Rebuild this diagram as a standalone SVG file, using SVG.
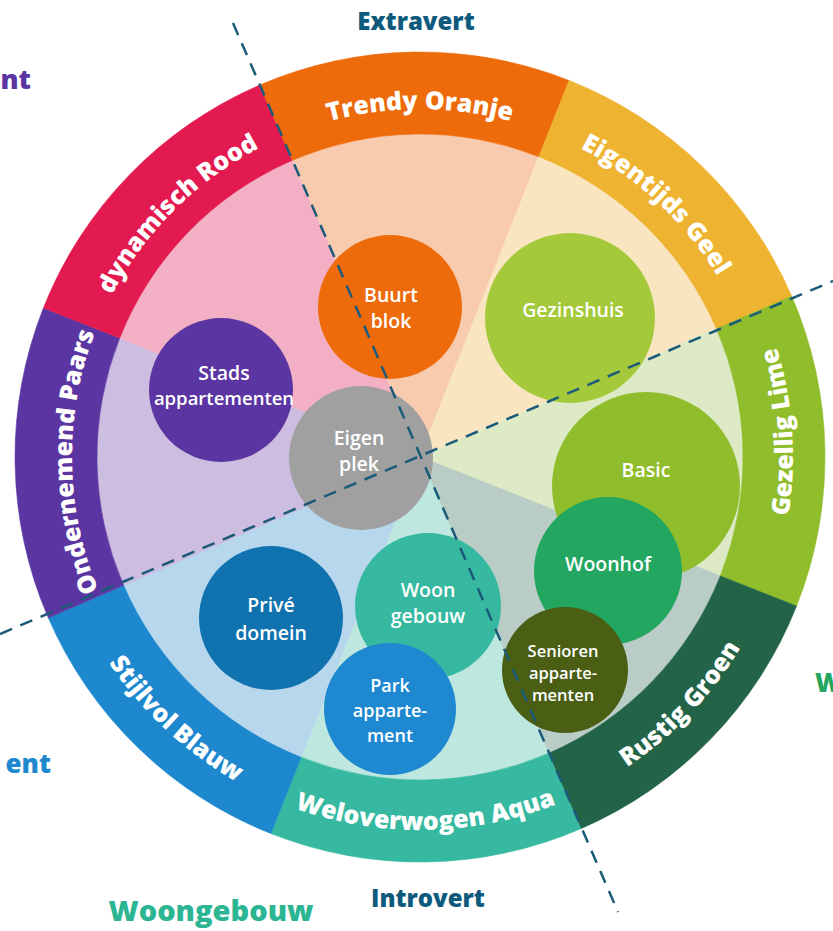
<svg xmlns="http://www.w3.org/2000/svg" width="833" height="931" viewBox="0 0 833 931">
<style>
.ring{font-family:"Open Sans","Noto Sans",sans-serif;font-weight:800;font-size:25px;fill:#fff}
.lbl{font-family:"Open Sans","Noto Sans",sans-serif;font-weight:600;font-size:19.5px;fill:#fff;text-anchor:middle}
.out{font-family:"Open Sans","Noto Sans",sans-serif;font-weight:800;font-size:24px}
.axis{fill:none;stroke:#1B5A78;stroke-width:2.5;stroke-dasharray:13 9}
</style>
<defs>
<path id="pOranje" d="M196.41,190.50 A348,348 0 0 1 643.59,190.50"/>
<path id="pGeel" d="M450.33,110.32 A348,348 0 0 1 766.67,423.67"/>
<path id="pPaars" d="M153.41,680.69 A348,348 0 0 1 153.41,233.31"/>
<path id="pRood" d="M73.33,423.67 A348,348 0 0 1 389.67,110.32"/>
<path id="pLime" d="M705.74,696.77 A373,373 0 0 0 705.74,217.23"/>
<path id="pGroen" d="M452.51,828.58 A373,373 0 0 0 791.58,489.51"/>
<path id="pAqua" d="M180.24,742.74 A373,373 0 0 0 659.76,742.74"/>
<path id="pBlauw" d="M48.42,489.51 A373,373 0 0 0 387.49,828.58"/>
</defs>
<rect width="833" height="931" fill="#fff"/>

<g transform="rotate(-0.9 420 457)">
<g id="sectors">
<path d="M420,457 L296.39,158.59 A323,323 0 0 1 543.61,158.59 Z" fill="#F8CBAE" stroke="#F8CBAE"/>
<path d="M420,457 L543.61,158.59 A323,323 0 0 1 718.41,333.39 Z" fill="#FAE5C1" stroke="#FAE5C1"/>
<path d="M420,457 L718.41,333.39 A323,323 0 0 1 718.41,580.61 Z" fill="#DDEAC5" stroke="#DDEAC5"/>
<path d="M420,457 L718.41,580.61 A323,323 0 0 1 543.61,755.41 Z" fill="#B9CCC5" stroke="#B9CCC5"/>
<path d="M420,457 L543.61,755.41 A323,323 0 0 1 296.39,755.41 Z" fill="#BEE7E0" stroke="#BEE7E0"/>
<path d="M420,457 L296.39,755.41 A323,323 0 0 1 121.59,580.61 Z" fill="#B7D7EC" stroke="#B7D7EC"/>
<path d="M420,457 L121.59,580.61 A323,323 0 0 1 121.59,333.39 Z" fill="#CCBDE1" stroke="#CCBDE1"/>
<path d="M420,457 L121.59,333.39 A323,323 0 0 1 296.39,158.59 Z" fill="#F3B0C5" stroke="#F3B0C5"/>
</g>

<g id="ring-oranje">
<path d="M265.01,82.83 A405,405 0 0 1 574.99,82.83 L543.61,158.59 A323,323 0 0 0 296.39,158.59 Z" fill="#EE6B0C" stroke="#EE6B0C" stroke-width="0.6"/>
<text class="ring"><textPath href="#pOranje" startOffset="51.1%" text-anchor="middle">Trendy Oranje</textPath></text>
</g>
<g id="ring-geel">
<path d="M574.99,82.83 A405,405 0 0 1 794.17,301.99 L718.41,333.39 A323,323 0 0 0 543.61,158.59 Z" fill="#EEB330" stroke="#EEB330" stroke-width="0.6"/>
<text class="ring"><textPath href="#pGeel" startOffset="49%" text-anchor="middle">Eigentijds Geel</textPath></text>
</g>
<g id="ring-lime">
<path d="M794.17,301.99 A405,405 0 0 1 794.17,612.01 L718.41,580.61 A323,323 0 0 0 718.41,333.39 Z" fill="#8FBD2B" stroke="#8FBD2B" stroke-width="0.6"/>
<text class="ring"><textPath href="#pLime" startOffset="53.9%" text-anchor="middle">Gezellig Lime</textPath></text>
</g>
<g id="ring-groen">
<path d="M794.17,612.01 A405,405 0 0 1 574.99,831.17 L543.61,755.41 A323,323 0 0 0 718.41,580.61 Z" fill="#236448" stroke="#236448" stroke-width="0.6"/>
<text class="ring"><textPath href="#pGroen" startOffset="50.75%" text-anchor="middle">Rustig Groen</textPath></text>
</g>
<g id="ring-aqua">
<path d="M574.99,831.17 A405,405 0 0 1 265.01,831.17 L296.39,755.41 A323,323 0 0 0 543.61,755.41 Z" fill="#36B9A0" stroke="#36B9A0" stroke-width="0.6"/>
<text class="ring"><textPath href="#pAqua" startOffset="50%" text-anchor="middle">Weloverwogen Aqua</textPath></text>
</g>
<g id="ring-blauw">
<path d="M265.01,831.17 A405,405 0 0 1 45.83,612.01 L121.59,580.61 A323,323 0 0 0 296.39,755.41 Z" fill="#1E88CF" stroke="#1E88CF" stroke-width="0.6"/>
<text class="ring"><textPath href="#pBlauw" startOffset="51.4%" text-anchor="middle">Stijlvol Blauw</textPath></text>
</g>
<g id="ring-paars">
<path d="M45.83,612.01 A405,405 0 0 1 45.83,301.99 L121.59,333.39 A323,323 0 0 0 121.59,580.61 Z" fill="#5B35A1" stroke="#5B35A1" stroke-width="0.6"/>
<text class="ring"><textPath href="#pPaars" startOffset="50.1%" text-anchor="middle">Ondernemend Paars</textPath></text>
</g>
<g id="ring-rood">
<path d="M45.83,301.99 A405,405 0 0 1 265.01,82.83 L296.39,158.59 A323,323 0 0 0 121.59,333.39 Z" fill="#E31A4F" stroke="#E31A4F" stroke-width="0.6"/>
<text class="ring"><textPath href="#pRood" startOffset="51%" text-anchor="middle">dynamisch Rood</textPath></text>
</g>
</g>

<g id="node-buurtblok">
<circle cx="390" cy="307" r="72" fill="#EE6B0C"/>
<text class="lbl" x="391" y="302">Buurt</text>
<text class="lbl" x="391" y="328">blok</text>
</g>
<g id="node-gezinshuis">
<circle cx="570" cy="318" r="85" fill="#A4C93A"/>
<text class="lbl" x="573" y="317">Gezinshuis</text>
</g>
<g id="node-stads">
<circle cx="221" cy="390" r="72" fill="#5B35A1"/>
<text class="lbl" x="224" y="380">Stads</text>
<text class="lbl" x="224" y="405" style="font-size:18.5px">appartementen</text>
</g>
<g id="node-eigenplek">
<circle cx="361" cy="458" r="72" fill="#A0A0A0"/>
<text class="lbl" x="359" y="445">Eigen</text>
<text class="lbl" x="359" y="471">plek</text>
</g>
<g id="node-basic">
<circle cx="646" cy="486" r="94" fill="#8FBD2B"/>
<text class="lbl" x="646" y="477">Basic</text>
</g>
<g id="node-woonhof">
<circle cx="608" cy="571" r="74" fill="#22A660"/>
<text class="lbl" x="608" y="571">Woonhof</text>
</g>
<g id="node-woongebouw">
<circle cx="428" cy="606" r="73" fill="#36B9A0"/>
<text class="lbl" x="428" y="597">Woon</text>
<text class="lbl" x="428" y="623">gebouw</text>
</g>
<g id="node-prive">
<circle cx="271" cy="618" r="72" fill="#1172B0"/>
<text class="lbl" x="271" y="612">Privé</text>
<text class="lbl" x="271" y="640">domein</text>
</g>
<g id="node-park">
<circle cx="390" cy="709" r="66" fill="#1E88D0"/>
<text class="lbl" x="390" y="692" style="font-size:18px">Park</text>
<text class="lbl" x="390" y="717" style="font-size:18px">apparte-</text>
<text class="lbl" x="390" y="742" style="font-size:18px">ment</text>
</g>
<g id="node-senioren">
<circle cx="565" cy="670" r="63" fill="#4A5E14"/>
<text class="lbl" x="563" y="657" style="font-size:16.5px">Senioren</text>
<text class="lbl" x="563" y="679" style="font-size:16.5px">apparte-</text>
<text class="lbl" x="563" y="701" style="font-size:16.5px">menten</text>
</g>

<g id="axes">
<line class="axis" x1="233" y1="23" x2="618" y2="912"/>
<line class="axis" x1="0" y1="634" x2="833" y2="281"/>
</g>

<g id="labels">
<text class="out" x="416" y="30" text-anchor="middle" fill="#0E5A7C">Extravert</text>
<text class="out" x="428" y="907" text-anchor="middle" fill="#0E5A7C">Introvert</text>
<text class="out" x="211" y="921" text-anchor="middle" fill="#2BB593" style="font-size:29px">Woongebouw</text>
<text class="out" x="31" y="89" text-anchor="end" fill="#5B35A1" style="font-size:27px">nt</text>
<text class="out" x="51" y="773" text-anchor="end" fill="#1E88CF" style="font-size:26px">ent</text>
<text class="out" x="815" y="692" fill="#22A660" style="font-size:26px">W</text>
</g>
</svg>
